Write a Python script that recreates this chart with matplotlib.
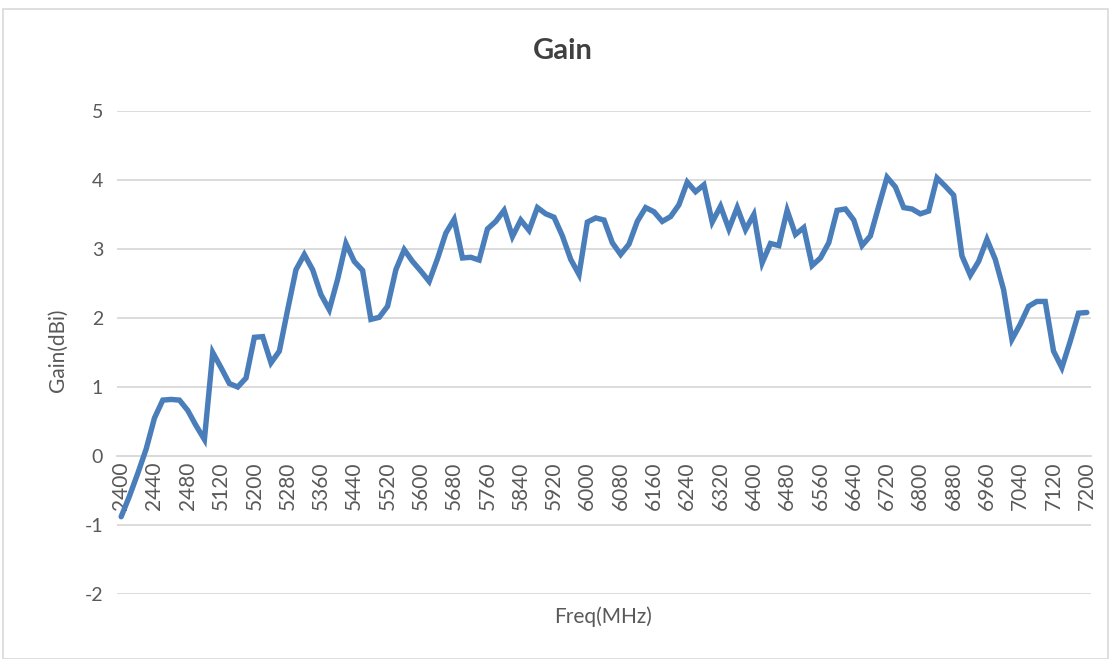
import matplotlib.pyplot as plt
from matplotlib.patches import Rectangle

# frequency points (MHz): 2.4 GHz band in 10 MHz steps, then 5-7 GHz in 20 MHz steps
freq_24 = [2400, 2410, 2420, 2430, 2440, 2450, 2460, 2470, 2480, 2490, 2500]
freq_5g = [5100] + list(range(5120, 7201, 20))
freqs = freq_24 + freq_5g

gain = [
    -0.88, -0.58, -0.25, 0.10, 0.55, 0.81, 0.82, 0.81, 0.66, 0.44, 0.24,
    1.50, 1.28, 1.05, 1.00, 1.13, 1.72, 1.73, 1.35, 1.52,
    2.12, 2.70, 2.92, 2.70, 2.34, 2.12, 2.56, 3.08, 2.82, 2.69,
    1.98, 2.01, 2.17, 2.70, 2.99, 2.82, 2.68, 2.53, 2.86, 3.23,
    3.43, 2.87, 2.88, 2.84, 3.29, 3.40, 3.56, 3.18, 3.42, 3.27,
    3.60, 3.51, 3.46, 3.19, 2.85, 2.63, 3.39, 3.45, 3.42, 3.09,
    2.92, 3.07, 3.40, 3.60, 3.54, 3.40, 3.47, 3.64, 3.97, 3.83,
    3.93, 3.39, 3.62, 3.29, 3.60, 3.28, 3.50, 2.80, 3.08, 3.05,
    3.56, 3.21, 3.31, 2.76, 2.87, 3.09, 3.56, 3.58, 3.42, 3.05,
    3.19, 3.62, 4.04, 3.90, 3.60, 3.58, 3.51, 3.55, 4.03, 3.91,
    3.78, 2.90, 2.62, 2.82, 3.14, 2.85, 2.41, 1.69, 1.91, 2.17,
    2.24, 2.24, 1.52, 1.28, 1.66, 2.07, 2.08,
]

line_color = "#4A7EBB"
grid_color = "#D9D9D9"
text_color = "#595959"

plt.rcParams["font.family"] = ["Lato", "DejaVu Sans"]
plt.rcParams["axes.unicode_minus"] = False

fig = plt.figure(figsize=(11.1, 6.59), dpi=100)
ax = fig.add_axes([117 / 1110, 65 / 659, 974 / 1110, 483 / 659])

x = list(range(len(freqs)))
ax.plot(x, gain, color=line_color, linewidth=3.9, solid_joinstyle="miter",
        solid_capstyle="round", zorder=3)

ax.set_xlim(-0.5, len(freqs) - 0.5)
ax.set_ylim(-2, 5)
ax.set_yticks(range(-2, 6))
ax.grid(axis="y", color=grid_color, linewidth=1.3)
ax.set_axisbelow(True)

for side in ["top", "right", "left"]:
    ax.spines[side].set_visible(False)
ax.spines["bottom"].set_position(("data", 0))
ax.spines["bottom"].set_color(grid_color)
ax.spines["bottom"].set_linewidth(1.3)

# category labels on every fourth point (set after moving the spine)
tick_idx = list(range(0, len(freqs), 4))
ax.set_xticks(tick_idx)
ax.set_xticklabels([str(freqs[i]) for i in tick_idx], rotation=90,
                   va="top", ha="center")

ax.tick_params(axis="y", length=0, labelsize=14, colors=text_color, pad=10)
ax.tick_params(axis="x", length=0, labelsize=15, colors=text_color, pad=4)

fig.text(0.507, 0.923, "Gain", ha="center", va="center", fontsize=21,
         fontweight="bold", color="#404040")
fig.text(603 / 1110, 1 - 617 / 659, "Freq(MHz)", ha="center", va="center",
         fontsize=15, color=text_color)
fig.text(58 / 1110, 1 - 350 / 659, "Gain(dBi)", ha="center", va="center",
         rotation=90, fontsize=15, color=text_color)

# chart border
fig.patches.append(Rectangle((3 / 1110, 0), 1105 / 1110, 650 / 659,
                             transform=fig.transFigure, fill=False,
                             edgecolor=grid_color, linewidth=1.2))

fig.savefig("out.png", dpi=100)
